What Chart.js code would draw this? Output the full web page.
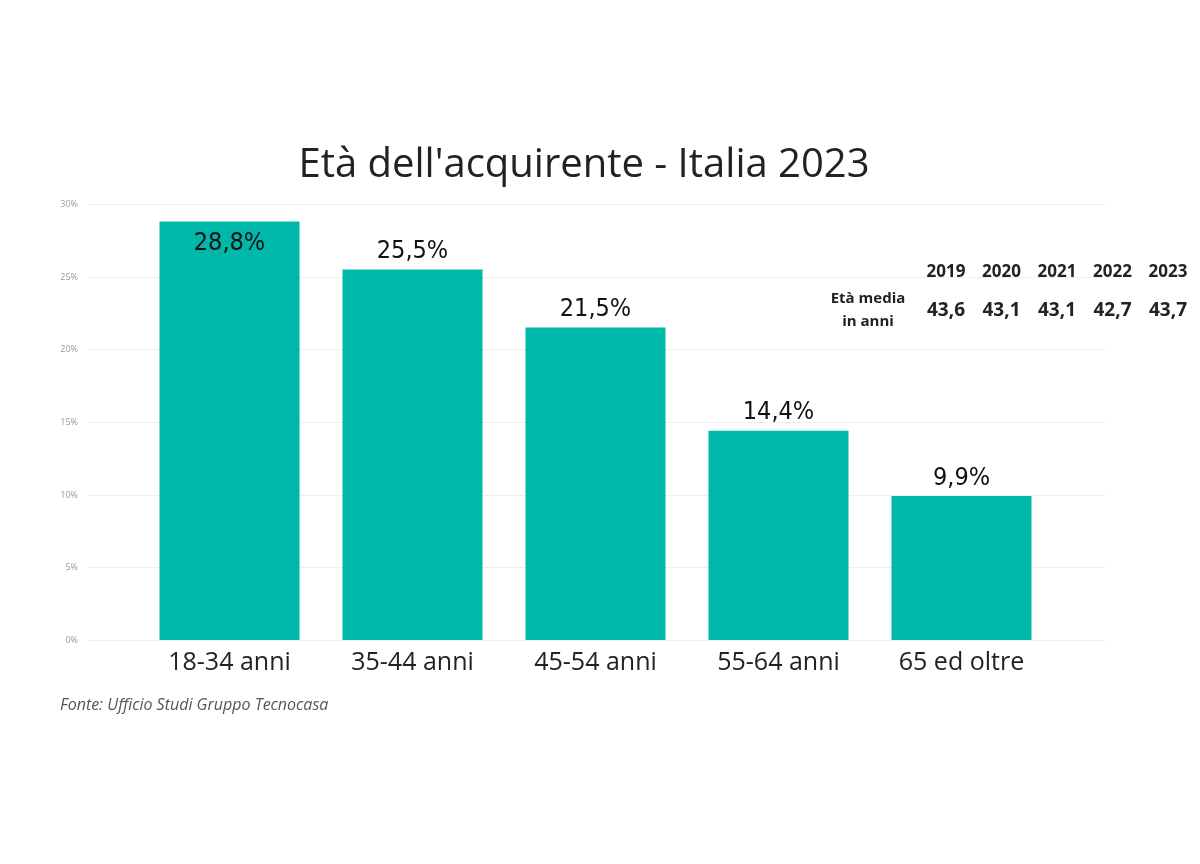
<!DOCTYPE html>
<html><head><meta charset="utf-8">
<script src="https://cdn.jsdelivr.net/npm/chart.js@4"></script>
<style>html,body{margin:0;background:#fff}#wrap{width:1200px;height:864px}</style>
</head><body><div id="wrap"><canvas id="c"></canvas></div>
<script>
// Dati
const categorie = ['18-34 anni', '35-44 anni', '45-54 anni', '55-64 anni', '65 ed oltre'];
const percentuali = [28.8, 25.5, 21.5, 14.4, 9.9];
const etichette = ['28,8%', '25,5%', '21,5%', '14,4%', '9,9%'];
const anni = ['2019', '2020', '2021', '2022', '2023'];
const etaMedia = ['43,6', '43,1', '43,1', '42,7', '43,7'];
const tickY = [0, 5, 10, 15, 20, 25, 30];

const extra = {
  id: 'extra',
  beforeDatasetsDraw(chart) {
    const ctx = chart.ctx, y = chart.scales.y;
    ctx.save();
    ctx.strokeStyle = '#eeeeee'; ctx.lineWidth = 1;
    ctx.fillStyle = '#999'; ctx.font = '9px "Open Sans"';
    ctx.textAlign = 'right'; ctx.textBaseline = 'middle';
    tickY.forEach(v => {
      const py = Math.round(y.getPixelForValue(v)) + 0.5;
      ctx.beginPath(); ctx.moveTo(88, py); ctx.lineTo(1105, py); ctx.stroke();
      ctx.fillText(v + '%', 78, py);
    });
    ctx.restore();
  },
  afterDatasetsDraw(chart) {
    const ctx = chart.ctx;
    const meta = chart.getDatasetMeta(0);
    ctx.save();
    ctx.fillStyle = '#111';
    ctx.font = '25px "DejaVu Sans Condensed", "Liberation Sans Narrow", sans-serif';
    ctx.textAlign = 'center'; ctx.textBaseline = 'middle';
    meta.data.forEach((bar, i) => {
      const py = i === 0 ? bar.y + 22 : bar.y - 18;
      ctx.fillText(etichette[i], bar.x, py);
    });
    // titolo
    ctx.font = '40px "Open Sans"'; ctx.fillStyle = '#222';
    ctx.fillText("Età dell'acquirente - Italia 2023", 584, 166);
    // tabella età media
    ctx.fillStyle = '#222';
    ctx.font = 'bold 17px "Open Sans"';
    anni.forEach((a, i) => ctx.fillText(a, 946 + i * 55.5, 272));
    ctx.font = 'bold 19px "Open Sans"';
    etaMedia.forEach((v, i) => ctx.fillText(v, 946 + i * 55.5, 311));
    ctx.font = 'bold 15px "Open Sans"';
    ctx.fillText('Età media', 868, 299);
    ctx.fillText('in anni', 868, 322);
    // fonte
    ctx.font = 'italic 16px "Open Sans"'; ctx.fillStyle = '#555'; ctx.textAlign = 'left';
    ctx.fillText('Fonte: Ufficio Studi Gruppo Tecnocasa', 60, 705);
    ctx.restore();
  }
};

new Chart(document.getElementById('c'), {
  type: 'bar',
  data: {
    labels: categorie,
    datasets: [{ data: percentuali, backgroundColor: '#00b8a9', categoryPercentage: 1, barPercentage: 0.765 }]
  },
  options: {
    responsive: true, maintainAspectRatio: false, animation: false,
    devicePixelRatio: 1,
    layout: { padding: { left: 138, right: 147, top: 204, bottom: 186 } },
    scales: {
      y: { min: 0, max: 30, display: false },
      x: {
        grid: { display: false }, border: { display: false },
        ticks: { color: '#222', font: { size: 25, family: 'Open Sans' }, padding: 0 }
      }
    },
    plugins: { legend: { display: false }, tooltip: { enabled: false } }
  },
  plugins: [extra]
});
</script></body></html>
